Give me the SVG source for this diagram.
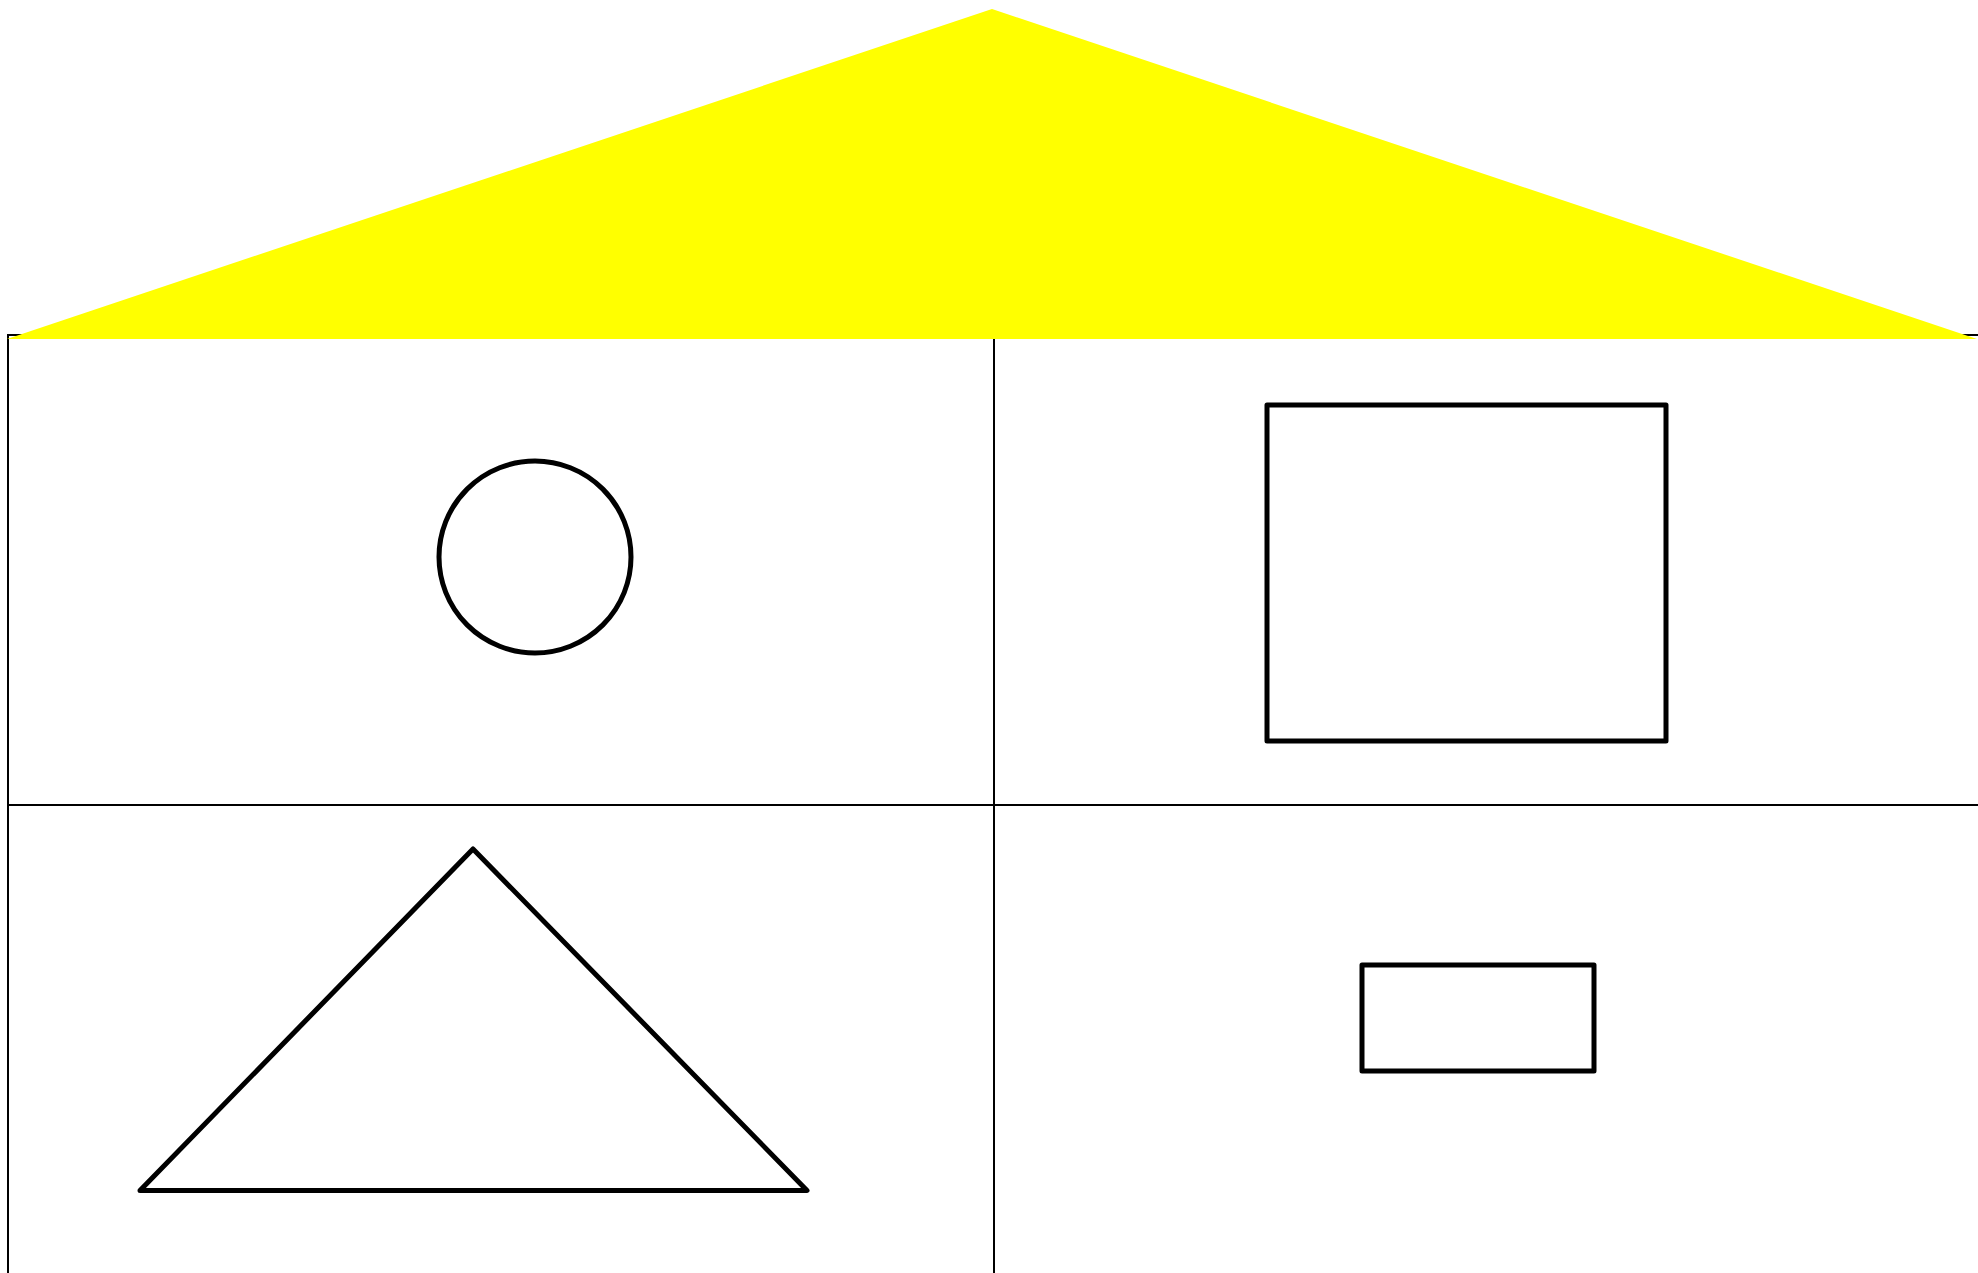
<svg xmlns="http://www.w3.org/2000/svg" width="1978" height="1273" viewBox="0 0 1978 1273">
  <style>
    .grid { fill: none; stroke: #000; stroke-width: 2; }
    .shape { fill: none; stroke: #000; stroke-width: 5; stroke-linejoin: round; }
    .roof { fill: #ffff00; stroke: none; }
  </style>
  <rect width="1978" height="1273" fill="#fff"/>
  <g id="grid">
    <rect class="grid" x="8" y="335" width="1972" height="940"/>
    <line class="grid" x1="994" y1="335" x2="994" y2="1275"/>
    <line class="grid" x1="8" y1="805" x2="1980" y2="805"/>
  </g>
  <g id="roof">
    <polygon class="roof" points="7,339 992,9 1977,339"/>
  </g>
  <g id="circle">
    <circle class="shape" cx="535" cy="557" r="96"/>
  </g>
  <g id="big-rect">
    <rect class="shape" x="1267" y="405" width="399" height="336"/>
  </g>
  <g id="triangle">
    <polygon class="shape" points="140,1190.5 473,849 807,1190.5"/>
  </g>
  <g id="small-rect">
    <rect class="shape" x="1362" y="965" width="232" height="106"/>
  </g>
</svg>
